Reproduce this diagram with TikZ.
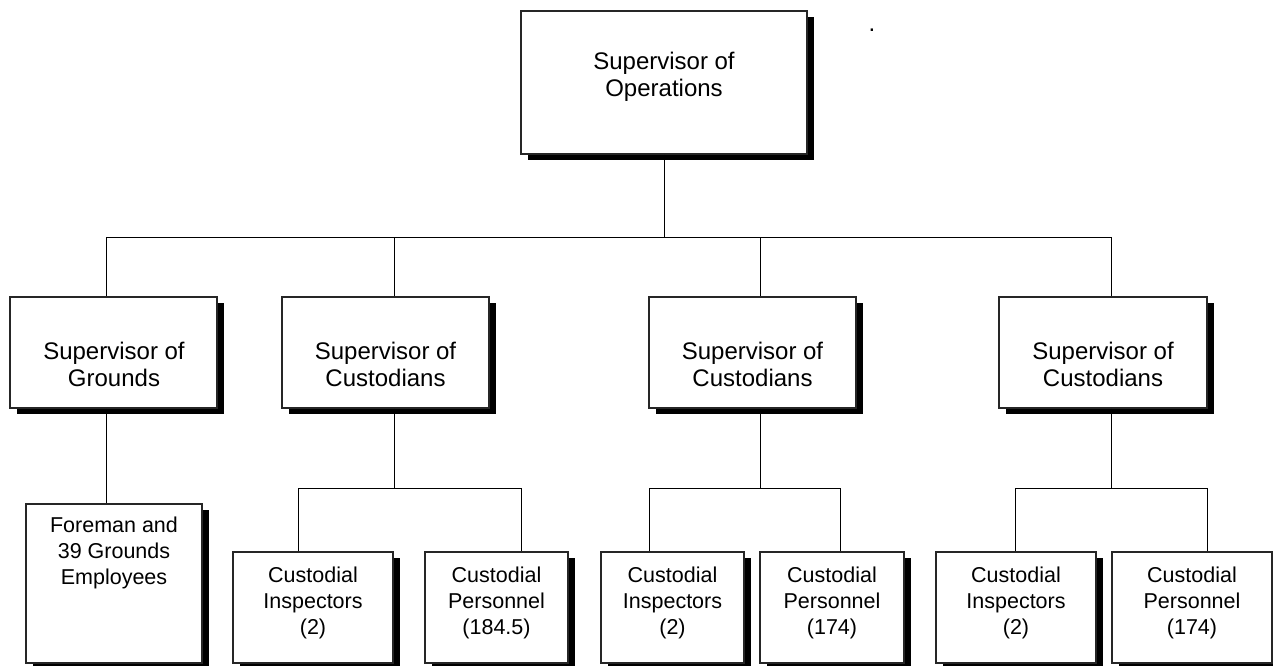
\documentclass[tikz,border=0pt]{standalone}
\usepackage{fontspec}
\setmainfont{Liberation Sans}
\usetikzlibrary{calc,shadows}
\begin{document}
\begin{tikzpicture}[x=1pt,y=-1pt,
  box/.style={rectangle, draw=black!85, line width=1.1pt, fill=white, inner sep=0pt,
    drop shadow={fill=black, opacity=1, shadow xshift=7pt, shadow yshift=-6pt}},
  link/.style={draw=black, line width=1pt},
  bigtext/.style={font=\fontsize{24}{27}\selectfont, align=center, inner sep=0pt},
  smalltext/.style={font=\fontsize{21.5}{26}\selectfont, align=center, inner sep=0pt},
]
\useasboundingbox (0,0) rectangle (1273,665);

% ---- boxes ----
\node[box, minimum width=286pt, minimum height=143pt] (ops) at (664,82.5) {};

\node[box, minimum width=207pt, minimum height=111pt] (grd) at (113.5,352.5) {};
\node[box, minimum width=207pt, minimum height=111pt] (cu1) at (385.5,352.5) {};
\node[box, minimum width=207pt, minimum height=111pt] (cu2) at (752.5,352.5) {};
\node[box, minimum width=208pt, minimum height=111pt] (cu3) at (1103,352.5) {};

\node[box, minimum width=176pt, minimum height=159pt] (fore) at (114,583.5) {};
\node[box, minimum width=160pt, minimum height=111pt] (in1) at (313,607.5) {};
\node[box, minimum width=143pt, minimum height=111pt] (pe1) at (496.5,607.5) {};
\node[box, minimum width=143pt, minimum height=111pt] (in2) at (672.5,607.5) {};
\node[box, minimum width=144pt, minimum height=111pt] (pe2) at (832,607.5) {};
\node[box, minimum width=160pt, minimum height=111pt] (in3) at (1016,607.5) {};
\node[box, minimum width=160pt, minimum height=111pt] (pe3) at (1192,607.5) {};

% ---- texts ----
\node[bigtext] (ops-t) at (664,77) {Supervisor of\\Operations};
\node[bigtext] (grd-t) at (114,364.5) {Supervisor of\\Grounds};
\node[bigtext] (cu1-t) at (385.5,364.5) {Supervisor of\\Custodians};
\node[bigtext] (cu2-t) at (752.5,364.5) {Supervisor of\\Custodians};
\node[bigtext] (cu3-t) at (1103,364.5) {Supervisor of\\Custodians};

\node[smalltext] (fore-t) at (114,553) {Foreman and\\39 Grounds\\Employees};
\node[smalltext] (in1-t) at (313,602.5) {Custodial\\Inspectors\\(2)};
\node[smalltext] (pe1-t) at (496.5,602.5) {Custodial\\Personnel\\(184.5)};
\node[smalltext] (in2-t) at (672.5,602.5) {Custodial\\Inspectors\\(2)};
\node[smalltext] (pe2-t) at (832,602.5) {Custodial\\Personnel\\(174)};
\node[smalltext] (in3-t) at (1016,602.5) {Custodial\\Inspectors\\(2)};
\node[smalltext] (pe3-t) at (1192,602.5) {Custodial\\Personnel\\(174)};

\node[font=\fontsize{24}{27}\selectfont, inner sep=0pt, anchor=base] (dot) at (872,31) {.};

% ---- junction points ----
\coordinate (bus0) at (0,237);
\coordinate (bus1) at (0,488);
\coordinate (j-grd) at ($(grd.north)+(-7.5,0)$);
\coordinate (j-cu1) at ($(cu1.north)+(8.5,0)$);
\coordinate (j-cu2) at ($(cu2.north)+(7.5,0)$);
\coordinate (j-cu3) at ($(cu3.north)+(8,0)$);
\coordinate (j-in1) at ($(in1.north)+(-15,0)$);
\coordinate (j-pe1) at ($(pe1.north)+(24.5,0)$);
\coordinate (j-in2) at ($(in2.north)+(-23.5,0)$);
\coordinate (j-pe2) at ($(pe2.north)+(8,0)$);
\coordinate (j-in3) at ($(in3.north)+(-1,0)$);
\coordinate (j-pe3) at ($(pe3.north)+(15,0)$);

% ---- connectors ----
\draw[link] (ops.south) -- (ops.south |- bus0);
\draw[link] (j-grd |- bus0) -- (j-cu3 |- bus0);
\foreach \j in {j-grd,j-cu1,j-cu2,j-cu3}
  \draw[link] (\j |- bus0) -- (\j);

\draw[link] (j-grd |- grd.south) -- (j-grd |- fore.north);

\draw[link] (j-cu1 |- cu1.south) -- (j-cu1 |- bus1);
\draw[link] (j-in1 |- bus1) -- (j-pe1 |- bus1);
\draw[link] (j-in1 |- bus1) -- (j-in1);
\draw[link] (j-pe1 |- bus1) -- (j-pe1);

\draw[link] (j-cu2 |- cu2.south) -- (j-cu2 |- bus1);
\draw[link] (j-in2 |- bus1) -- (j-pe2 |- bus1);
\draw[link] (j-in2 |- bus1) -- (j-in2);
\draw[link] (j-pe2 |- bus1) -- (j-pe2);

\draw[link] (j-cu3 |- cu3.south) -- (j-cu3 |- bus1);
\draw[link] (j-in3 |- bus1) -- (j-pe3 |- bus1);
\draw[link] (j-in3 |- bus1) -- (j-in3);
\draw[link] (j-pe3 |- bus1) -- (j-pe3);
\end{tikzpicture}
\end{document}
